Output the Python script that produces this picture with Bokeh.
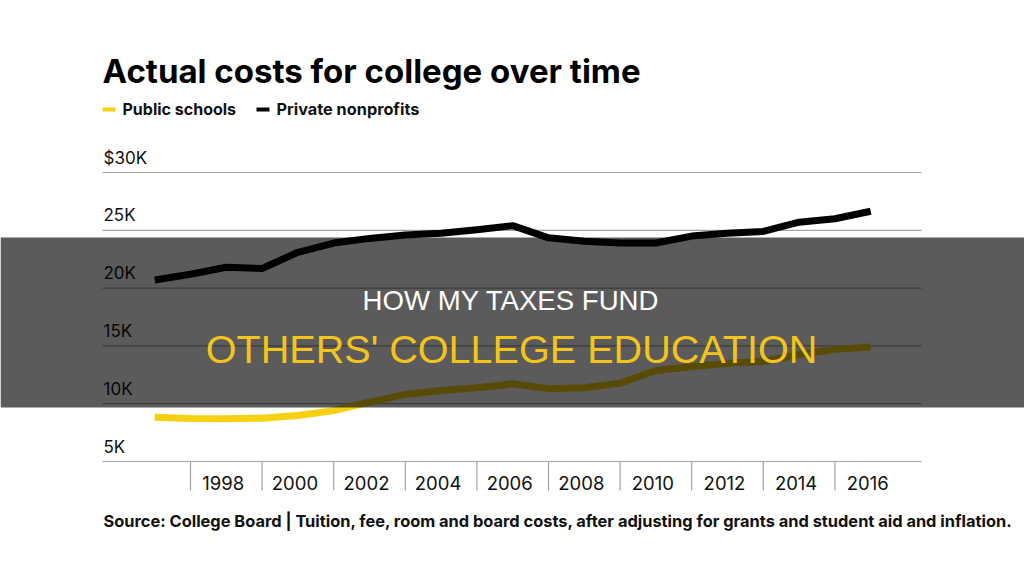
from bokeh.plotting import figure
from bokeh.models import Range1d, Label, BoxAnnotation
from bokeh.embed import file_html
from bokeh.resources import INLINE
from bokeh.core.properties import value

# ---------------- data (thousands of dollars) ----------------
years = list(range(1996, 2017))
private_nonprofits = [20.7, 21.2, 21.8, 21.7, 23.1, 23.9, 24.3, 24.6, 24.75, 25.05, 25.4,
                      24.35, 24.05, 23.9, 23.9, 24.5, 24.75, 24.9, 25.7, 26.0, 26.65]
public_schools = [8.83, 8.72, 8.7, 8.75, 8.98, 9.4, 10.13, 10.8, 11.14, 11.38, 11.72,
                  11.3, 11.38, 11.78, 12.87, 13.2, 13.5, 13.65, 14.25, 14.7, 14.9]
y_ticks = [5, 10, 15, 20, 25, 30]
y_tick_labels = ["5K", "10K", "15K", "20K", "25K", "$30K"]
x_label_years = [1998, 2000, 2002, 2004, 2006, 2008, 2010, 2012, 2014, 2016]
x_tick_labels = [str(y) for y in x_label_years]
x_separator_years = [1997, 1999, 2001, 2003, 2005, 2007, 2009, 2011, 2013, 2015]

title_text = "Actual costs for college over time"
legend_labels = ["Public schools", "Private nonprofits"]
source_text = ("Source: College Board | Tuition, fee, room and board costs, after adjusting "
               "for grants and student aid and inflation.")
overlay_line1 = "HOW MY TAXES FUND"
overlay_line2 = "OTHERS' COLLEGE EDUCATION"

# ---------------- layout helpers ----------------
W, H = 1024, 576
PX_PER_YEAR = 35.8
YEAR0_PX = 154.2
PX_PER_K = 11.56
K30_PX = 172.0


def dx(px):
    return 1996 + (px - YEAR0_PX) / PX_PER_YEAR


def dy(py):
    return 30 - (py - K30_PX) / PX_PER_K


YELLOW = "#f7d10f"
INK = "#111111"
GRID = "#a3a3a3"

p = figure(width=W, height=H, x_range=Range1d(dx(0), dx(W)), y_range=Range1d(dy(H), dy(0)),
           min_border=0, toolbar_location=None, output_backend="svg",
           x_axis_location=None, y_axis_location=None)
p.grid.visible = False
p.outline_line_color = None
p.background_fill_color = "white"
p.border_fill_color = "white"

# gridlines
n = len(y_ticks)
p.segment(x0=[dx(102)] * n, y0=y_ticks, x1=[dx(921)] * n, y1=y_ticks,
          line_color=GRID, line_width=1.2)
# x separators
m = len(x_separator_years)
p.segment(x0=x_separator_years, y0=[y_ticks[0]] * m, x1=x_separator_years, y1=[dy(490)] * m,
          line_color=GRID, line_width=1.2)

# y labels
p.text(x=[dx(103)] * n, y=y_ticks, text=y_tick_labels, text_baseline="alphabetic",
       y_offset=-15, text_font=value("Inter"), text_font_size="17px", text_color=INK)
# x labels
k = len(x_label_years)
p.text(x=x_label_years, y=[dy(482)] * k, text=x_tick_labels, text_align="center",
       text_baseline="alphabetic", x_offset=-3, text_font=value("Inter"),
       text_font_size="18.5px", text_color=INK)

# series
p.line(years, public_schools, line_color=YELLOW, line_width=7, line_join="round")
p.line(years, private_nonprofits, line_color="black", line_width=7, line_join="round")

# title, legend, source
p.add_layout(Label(x=dx(102), y=dy(70), text=title_text, text_font="Inter",
                   text_font_style="bold", text_font_size="33px", text_color="black",
                   text_baseline="alphabetic"))
p.segment(x0=[dx(102), dx(256)], y0=[dy(109), dy(109)], x1=[dx(115), dx(269)],
          y1=[dy(109), dy(109)], line_color=[YELLOW, "black"], line_width=4)
p.add_layout(Label(x=dx(122), y=dy(108), text=legend_labels[0], text_font="Inter",
                   text_font_style="bold", text_font_size="16px", text_color=INK,
                   text_baseline="alphabetic"))
p.add_layout(Label(x=dx(276), y=dy(108), text=legend_labels[1], text_font="Inter",
                   text_font_style="bold", text_font_size="16.3px", text_color=INK,
                   text_baseline="alphabetic"))
p.add_layout(Label(x=dx(103), y=dy(520), text=source_text, text_font="Inter",
                   text_font_style="bold", text_font_size="16.4px", text_color=INK,
                   text_baseline="alphabetic"))

# dark overlay band and its caption
p.add_layout(BoxAnnotation(left=dx(0), right=dx(W), top=dy(237), bottom=dy(407),
                           fill_color="black", fill_alpha=0.645, line_color=None))
p.add_layout(Label(x=dx(510.5), y=dy(300), text=overlay_line1, text_font="Liberation Sans",
                   text_font_size="27.6px", text_color="white", text_align="center",
                   text_baseline="alphabetic"))
p.add_layout(Label(x=dx(511), y=dy(348), text=overlay_line2, text_font="Liberation Sans",
                   text_font_size="39.6px", text_color="#f4c41c", text_align="center",
                   text_baseline="alphabetic"))

open("out.html", "w").write(file_html(p, INLINE))
